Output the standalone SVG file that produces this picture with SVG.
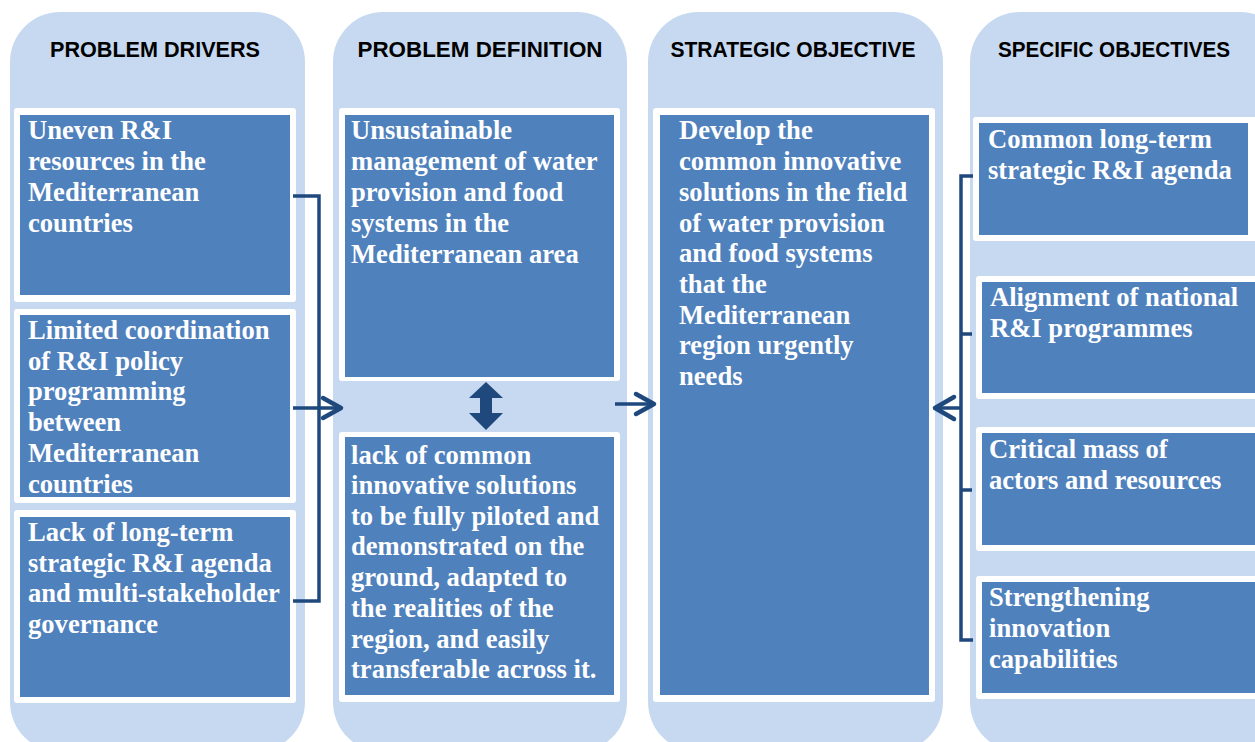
<svg xmlns="http://www.w3.org/2000/svg" width="1255" height="742" viewBox="0 0 1255 742">
<style>
.col{fill:#c6d9f1}
.frame{fill:#ffffff}
.box{fill:#4f81bd}
.hd{font-family:"Liberation Sans",Arial,sans-serif;font-weight:bold;font-size:21.7px;fill:#000;text-anchor:middle}
.tx{font-family:"Liberation Serif","Times New Roman",serif;font-weight:bold;font-size:26.6px;fill:#ffffff}
.ln{fill:none;stroke:#1f497d;stroke-width:3.5;stroke-linejoin:miter}
.hd2{fill:none;stroke:#1f497d;stroke-width:4.5;stroke-linecap:round;stroke-linejoin:round}
</style>
<rect width="1255" height="742" fill="#ffffff"/>
<g id="columns">
<g id="col-drivers"><rect class="col" x="10" y="12" width="295" height="740" rx="50"/><text class="hd" x="155" y="57" textLength="210" lengthAdjust="spacingAndGlyphs">PROBLEM DRIVERS</text></g>
<g id="col-definition"><rect class="col" x="333" y="12" width="294" height="740" rx="50"/><text class="hd" x="480" y="57" textLength="245" lengthAdjust="spacingAndGlyphs">PROBLEM DEFINITION</text></g>
<g id="col-strategic"><rect class="col" x="648" y="12" width="295" height="740" rx="50"/><text class="hd" x="793" y="57" textLength="245" lengthAdjust="spacingAndGlyphs">STRATEGIC OBJECTIVE</text></g>
<g id="col-specific"><rect class="col" x="970" y="12" width="320" height="740" rx="50"/><text class="hd" x="1114" y="57" textLength="232" lengthAdjust="spacingAndGlyphs">SPECIFIC OBJECTIVES</text></g>
</g>
<g id="driver-1"><rect class="frame" x="14" y="108" width="282" height="194" rx="3"/><rect class="box" x="20" y="115" width="270" height="180"/>
<text class="tx" x="28" y="139">Uneven R&amp;I</text><text class="tx" x="28" y="170">resources in the</text><text class="tx" x="28" y="201">Mediterranean</text><text class="tx" x="28" y="232">countries</text></g>
<g id="driver-2"><rect class="frame" x="14" y="309" width="282" height="194" rx="3"/><rect class="box" x="20" y="315" width="270" height="182"/>
<text class="tx" x="28" y="339">Limited coordination</text><text class="tx" x="28" y="370">of R&amp;I policy</text><text class="tx" x="28" y="400">programming</text><text class="tx" x="28" y="431">between</text><text class="tx" x="28" y="462">Mediterranean</text><text class="tx" x="28" y="493">countries</text></g>
<g id="driver-3"><rect class="frame" x="14" y="510" width="282" height="193" rx="3"/><rect class="box" x="20" y="517" width="270" height="180"/>
<text class="tx" x="28" y="541">Lack of long-term</text><text class="tx" x="28" y="572">strategic R&amp;I agenda</text><text class="tx" x="28" y="602">and multi-stakeholder</text><text class="tx" x="28" y="633">governance</text></g>
<g id="definition-1"><rect class="frame" x="339" y="108" width="281" height="273" rx="3"/><rect class="box" x="345" y="115" width="269" height="262"/>
<text class="tx" x="351" y="139">Unsustainable</text><text class="tx" x="351" y="170">management of water</text><text class="tx" x="351" y="201">provision and food</text><text class="tx" x="351" y="232">systems in the</text><text class="tx" x="351" y="263">Mediterranean area</text></g>
<g id="definition-2"><rect class="frame" x="339" y="432" width="281" height="270" rx="3"/><rect class="box" x="345" y="437" width="269" height="258"/>
<text class="tx" x="351" y="464">lack of common</text><text class="tx" x="351" y="494">innovative solutions</text><text class="tx" x="351" y="525">to be fully piloted and</text><text class="tx" x="351" y="555">demonstrated on the</text><text class="tx" x="351" y="586">ground, adapted to</text><text class="tx" x="351" y="617">the realities of the</text><text class="tx" x="351" y="648">region, and easily</text><text class="tx" x="351" y="678">transferable across it.</text></g>
<g id="strategic-1"><rect class="frame" x="653" y="108" width="282" height="594" rx="3"/><rect class="box" x="660" y="115" width="269" height="580"/>
<text class="tx" x="679" y="139">Develop the</text><text class="tx" x="679" y="170">common innovative</text><text class="tx" x="679" y="201">solutions in the field</text><text class="tx" x="679" y="232">of water provision</text><text class="tx" x="679" y="262">and food systems</text><text class="tx" x="679" y="293">that the</text><text class="tx" x="679" y="324">Mediterranean</text><text class="tx" x="679" y="354">region urgently</text><text class="tx" x="679" y="385">needs</text></g>
<g id="specific-1"><rect class="frame" x="973" y="117" width="290" height="124" rx="3"/><rect class="box" x="979" y="123" width="269" height="112"/>
<text class="tx" x="988" y="148">Common long-term</text><text class="tx" x="988" y="179">strategic R&amp;I agenda</text></g>
<g id="specific-2"><rect class="frame" x="976" y="276" width="290" height="123" rx="3"/><rect class="box" x="982" y="282" width="280" height="111"/>
<text class="tx" x="990" y="306">Alignment of national</text><text class="tx" x="990" y="337">R&amp;I programmes</text></g>
<g id="specific-3"><rect class="frame" x="976" y="427" width="290" height="124" rx="3"/><rect class="box" x="982" y="433" width="280" height="112"/>
<text class="tx" x="989" y="458">Critical mass of</text><text class="tx" x="989" y="489">actors and resources</text></g>
<g id="specific-4"><rect class="frame" x="976" y="576" width="290" height="123" rx="3"/><rect class="box" x="982" y="582" width="280" height="111"/>
<text class="tx" x="989" y="606">Strengthening</text><text class="tx" x="989" y="637">innovation</text><text class="tx" x="989" y="668">capabilities</text></g>
<g id="connectors">
<path class="ln" d="M293 196 H319 V601 H293"/>
<path class="ln" d="M293 408 H341"/>
<path class="hd2" d="M323 398 L341 408 L323 418"/>
<path d="M486 382 L503 398 L492 398 L492 413 L503 413 L486 430 L469 413 L480 413 L480 398 L469 398 Z" fill="#1f497d"/>
<path class="ln" d="M615 404 H653"/>
<path class="hd2" d="M636 394 L654 404 L636 414"/>
<path class="ln" d="M973 176 H961 V640 H973"/>
<path class="ln" d="M961 334 H972 M961 490 H972"/>
<path class="ln" d="M961 408 H936"/>
<path class="hd2" d="M954 397 L935 408 L954 419"/>
</g>
</svg>
